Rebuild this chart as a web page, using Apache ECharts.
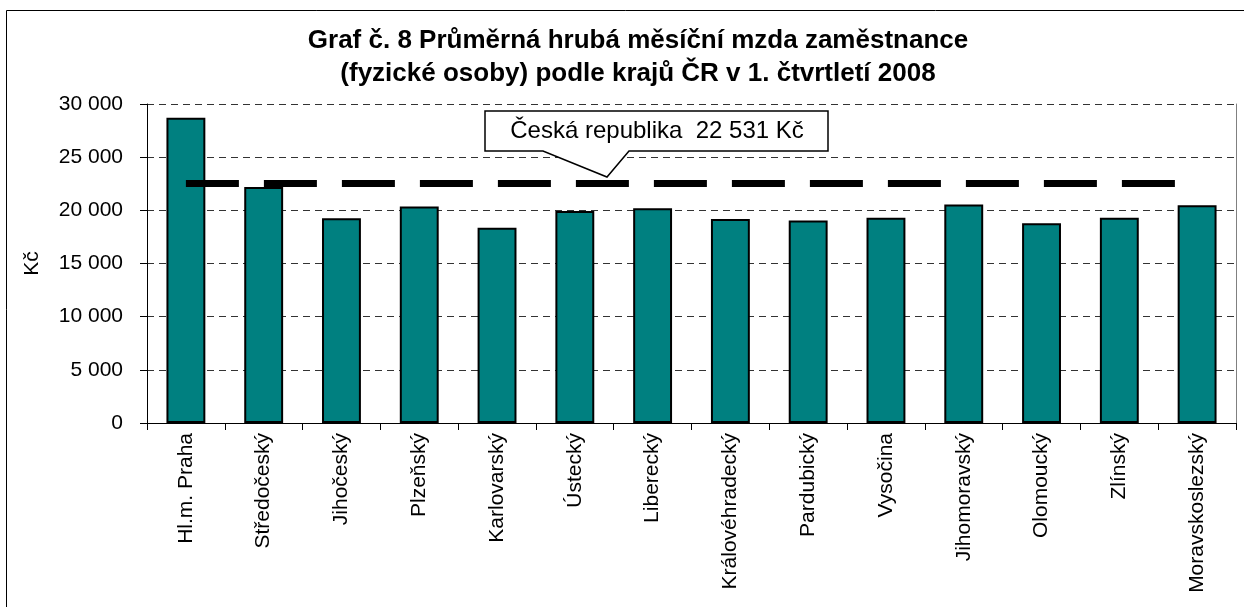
<!DOCTYPE html>
<html>
<head>
<meta charset="utf-8">
<title>Graf č. 8</title>
<script src="https://cdn.jsdelivr.net/npm/echarts/dist/echarts.min.js"></script>
<style>
	body { margin: 0; background: #fff; }
	#mzdy { width: 1244px; height: 607px; }
</style>
</head>
<body>
<div id="mzdy"></div>
<script>
// kraje a mzdy (Kč)
var kraje = ['Hl.m. Praha', 'Středočeský', 'Jihočeský', 'Plzeňský', 'Karlovarský', 'Ústecký', 'Liberecký',
	'Královéhradecký', 'Pardubický', 'Vysočina', 'Jihomoravský', 'Olomoucký', 'Zlínský', 'Moravskoslezský'];
var mzdy = [28700, 22200, 19250, 20350, 18370, 19940, 20190, 19180, 19040, 19310, 20560, 18780, 19310, 20470];
var prumerCR = 22531;
var prumerRada = kraje.map(function () { return prumerCR; });
var osaMin = 0, osaMax = 30000, osaKrok = 5000;

var font = 'Liberation Sans, Arial, sans-serif';

// 30000 -> "30 000"
function mezery(v) {
	return String(v).replace(/\B(?=(\d{3})+(?!\d))/g, ' ');
}

var mycharts = echarts.init(document.getElementById('mzdy'));
var option = {
	animation: false,
	backgroundColor: '#fff',
	title: {
		text: 'Graf č. 8 Průměrná hrubá měsíční mzda zaměstnance\n(fyzické osoby) podle krajů ČR v 1. čtvrtletí 2008',
		left: 633,
		top: 19,
		textAlign: 'center',
		textStyle: { fontFamily: font, fontSize: 26, fontWeight: 'bold', color: '#000', lineHeight: 33 }
	},
	grid: { left: 147, right: 8, top: 104, bottom: 184 },
	xAxis: {
		type: 'category',
		data: kraje,
		boundaryGap: true,
		axisLine: { lineStyle: { color: '#000', width: 1 } },
		axisTick: { show: true, length: 7, lineStyle: { color: '#000' } },
		axisLabel: { rotate: 90, margin: 10, interval: 0, color: '#000', fontFamily: font, fontSize: 21 }
	},
	yAxis: [
		{
			type: 'value',
			min: osaMin, max: osaMax, interval: osaKrok,
			name: 'Kč',
			nameLocation: 'middle',
			nameGap: 104,
			nameRotate: 90,
			nameTextStyle: { fontFamily: font, fontSize: 21, color: '#000' },
			axisLine: { show: true, lineStyle: { color: '#000' } },
			axisTick: { show: true, length: 7, lineStyle: { color: '#000' } },
			axisLabel: { margin: 24, color: '#000', fontFamily: font, fontSize: 21, formatter: mezery },
			splitLine: { show: true, lineStyle: { color: '#333', type: [7, 5], width: 1 } }
		},
		{
			// pravý okraj plochy grafu
			type: 'value',
			position: 'right',
			min: osaMin, max: osaMax, interval: osaKrok,
			axisLine: { show: true, lineStyle: { color: '#808080' } },
			axisTick: { show: false },
			axisLabel: { show: false },
			splitLine: { show: false }
		}
	],
	series: [
		{
			name: 'Mzda',
			type: 'bar',
			data: mzdy,
			barWidth: '50%',
			itemStyle: { color: '#008080', borderColor: '#000', borderWidth: 2 }
		},
		{
			name: 'Česká republika',
			type: 'line',
			data: prumerRada,
			symbol: 'none',
			lineStyle: { color: '#000', width: 7, type: [53, 25], cap: 'butt' },
			z: 3
		}
	],
	graphic: [
		{
			// rámeček celého grafu
			type: 'rect',
			shape: { x: 6.5, y: 10.5, width: 1300, height: 700 },
			style: { fill: 'none', stroke: '#000', lineWidth: 1 },
			silent: true
		},
		{
			// popisek s průměrem ČR
			type: 'polygon',
			shape: { points: [[485, 111], [828, 111], [828, 151], [629, 151], [607, 177], [543, 151], [485, 151]] },
			style: { fill: '#fff', stroke: '#000', lineWidth: 1.5 },
			z: 10
		},
		{
			type: 'text',
			x: 657, y: 131,
			style: {
				text: 'Česká republika  ' + mezery(prumerCR) + ' Kč',
				fontFamily: font, fontSize: 24, fill: '#000',
				align: 'center', verticalAlign: 'middle'
			},
			z: 11
		}
	]
};

mycharts.setOption(option);
</script>
</body>
</html>
